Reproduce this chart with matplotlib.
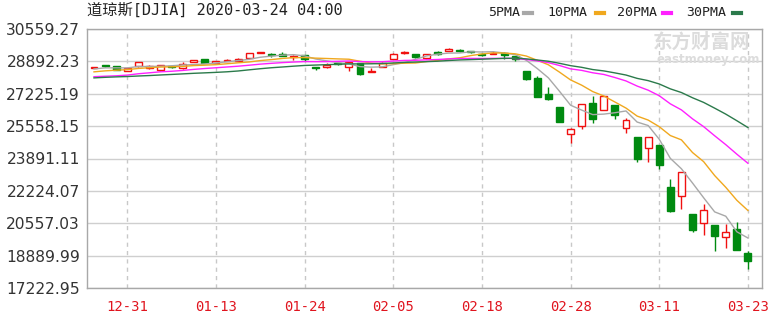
import matplotlib
matplotlib.use("Agg")
import matplotlib.pyplot as plt
import numpy as np
import pandas as pd

# ---------------- data ----------------
dates = ["12-26", "12-27", "12-30", "12-31", "01-02", "01-03", "01-06", "01-07", "01-08", "01-09",
         "01-10", "01-13", "01-14", "01-15", "01-16", "01-17", "01-21", "01-22", "01-23", "01-24",
         "01-27", "01-28", "01-29", "01-30", "01-31", "02-03", "02-04", "02-05", "02-06", "02-07",
         "02-10", "02-11", "02-12", "02-13", "02-14", "02-18", "02-19", "02-20", "02-21", "02-24",
         "02-25", "02-26", "02-27", "02-28", "03-02", "03-03", "03-04", "03-05", "03-06", "03-09",
         "03-10", "03-11", "03-12", "03-13", "03-16", "03-17", "03-18", "03-19", "03-20", "03-23"]

opens = [28539, 28675, 28654, 28417, 28638, 28553, 28465, 28639, 28556, 28882,
         29004, 28823, 28914, 28936, 29087, 29345, 29289, 29263, 29141, 29242,
         28620, 28598, 28821, 28579, 28813, 28320, 28626, 28999, 29318, 29286,
         29056, 29364, 29406, 29473, 29440, 29280, 29289, 29336, 29172, 28402,
         28028, 27224, 26556, 25136, 25590, 26762, 26384, 26671, 25458, 24992,
         24453, 24604, 22400, 21973, 21016, 20547, 20465, 19868, 20253, 19028]
highs = [28621, 28701, 28664, 28547, 28872, 28716, 28708, 28685, 28866, 28986,
         29009, 28909, 29010, 29090, 29298, 29373, 29322, 29373, 29196, 29243,
         28623, 28795, 28892, 28876, 28814, 28571, 28876, 29299, 29409, 29286,
         29277, 29415, 29568, 29522, 29441, 29337, 29409, 29368, 29172, 28402,
         28149, 27584, 26556, 25468, 26706, 27084, 27091, 26671, 25994, 24992,
         25020, 24604, 22837, 23190, 21016, 21550, 20465, 20531, 20626, 19121]
lows = [28535, 28608, 28428, 28376, 28627, 28500, 28418, 28565, 28523, 28850,
        28789, 28770, 28890, 28920, 29067, 29306, 29142, 29171, 28945, 28894,
        28440, 28533, 28712, 28420, 28169, 28320, 28626, 28999, 29250, 29056,
        29036, 29234, 29406, 29359, 29323, 29155, 29288, 28993, 28902, 27921,
        27085, 26916, 25767, 24681, 25391, 25707, 26384, 25943, 25226, 23707,
        23690, 23328, 21154, 21286, 20116, 19945, 19122, 19283, 19177, 18214]
closes = [28621, 28645, 28462, 28538, 28869, 28635, 28703, 28584, 28745, 28957,
          28824, 28907, 28940, 29030, 29298, 29348, 29196, 29186, 29160, 28990,
          28536, 28723, 28734, 28859, 28256, 28400, 28808, 29291, 29380, 29103,
          29277, 29276, 29551, 29423, 29398, 29232, 29348, 29220, 28992, 27961,
          27081, 26958, 25767, 25409, 26703, 25917, 27091, 26121, 25865, 23851,
          25018, 23553, 21201, 23186, 20189, 21237, 19899, 20087, 19174, 18592]

# closes before the first shown candle (needed to start the moving averages)
prior_closes = [27784, 27782, 28005, 28036, 27934, 27821, 27766, 27876, 28066, 28122,
                28164, 28051, 27783, 27503, 27650, 27678, 28015, 27910, 27882, 27911,
                28132, 28135, 28236, 28267, 28239, 28377, 28455, 28552, 28515]

ma_periods = [5, 10, 20, 30]
ma_labels = ["5PMA", "10PMA", "20PMA", "30PMA"]
ma_colors = ["#a8a8a8", "#f0a81e", "#ff20ff", "#2b7a4b"]

y_ticks = [17222.95, 18889.99, 20557.03, 22224.07, 23891.11, 25558.15, 27225.19, 28892.23, 30559.27]
x_tick_labels = ["12-31", "01-13", "01-24", "02-05", "02-18", "02-28", "03-11", "03-23"]

title = "道琼斯[DJIA] 2020-03-24 04:00"

# ---------------- figure ----------------
W, H = 784, 319
fig = plt.figure(figsize=(W / 100, H / 100), dpi=100)
ax = fig.add_axes([87 / W, 1 - 288 / H, (762 - 87) / W, (288 - 29) / H])

n = len(closes)
x = np.arange(n)
o = np.array(opens, float)
c = np.array(closes, float)
hi = np.array(highs, float)
lo = np.array(lows, float)
up = c >= o

red = "#f01010"
green = "#008a10"

body_w = 0.62
min_h = 35
bottom = np.minimum(o, c)
height = np.maximum(np.abs(c - o), min_h)

# wicks
for i in range(n):
    col = red if up[i] else green
    ax.vlines(x[i], lo[i], hi[i], color=col, linewidth=1.0, zorder=2)

ax.bar(x[up], height[up], bottom=bottom[up], width=body_w, facecolor="white",
       edgecolor=red, linewidth=1.0, zorder=3)
ax.bar(x[~up], height[~up], bottom=bottom[~up], width=body_w, facecolor=green,
       edgecolor=green, linewidth=1.0, zorder=3)

# moving averages
all_closes = pd.Series(prior_closes + closes, dtype=float)
for p, col in zip(ma_periods, ma_colors):
    ma = all_closes.rolling(p).mean().to_numpy()[len(prior_closes):]
    ax.plot(x, ma, color=col, linewidth=1.0, zorder=4)

# axes styling
ax.set_xlim(-0.63, n - 1 + 1.27)
ax.set_ylim(y_ticks[0], y_ticks[-1])
ax.set_yticks(y_ticks)
ax.set_yticklabels([f"{v:.2f}" for v in y_ticks], fontsize=11.2, color="#333333",
                   family="DejaVu Sans")
tick_pos = [dates.index(d) for d in x_tick_labels]
ax.set_xticks(tick_pos)
ax.set_xticklabels(x_tick_labels, fontsize=10, color="#e0141e", family="DejaVu Sans Mono")
ax.tick_params(axis="both", length=0)
ax.tick_params(axis="y", pad=5)
ax.tick_params(axis="x", pad=8.5)

ax.grid(axis="y", color="#cfcfcf", linewidth=1.0, linestyle="-", zorder=0)
ax.grid(axis="x", color="#c8c8c8", linewidth=1.0, linestyle=(0, (3, 3)), zorder=0)
ax.set_axisbelow(True)
for s in ax.spines.values():
    s.set_color("#a8a8a8")
    s.set_linewidth(1.0)

# watermark
fig.text(702 / W, 1 - 42 / H, "东方财富网", fontsize=14, color="#dcdcdc",
         family=["Noto Sans CJK SC"], ha="center", va="center", fontweight="bold", zorder=0)
fig.text(708 / W, 1 - 60 / H, "eastmoney.com", fontsize=8.5, color="#dcdcdc",
         family="DejaVu Sans", ha="center", va="center", fontweight="bold", zorder=0)

# title
fig.text(87 / W, 1 - 10 / H, title, fontsize=11, color="#222222",
         family=["DejaVu Sans Mono", "Noto Sans CJK SC"], ha="left", va="center")

# legend
leg_text_x = [488, 547, 617, 686]
leg_dash_x = [524, 596, 663, 733]
for lbl, col, tx, dx in zip(ma_labels, ma_colors, leg_text_x, leg_dash_x):
    fig.text(tx / W, 1 - 13 / H, lbl, fontsize=9.5, color="#222222",
             family="DejaVu Sans Mono", ha="left", va="center")
    fig.add_artist(plt.Line2D([dx / W, (dx + 8) / W], [1 - 13 / H, 1 - 13 / H],
                              color=col, linewidth=3, transform=fig.transFigure))

fig.savefig("out.png", dpi=100, facecolor="white")
